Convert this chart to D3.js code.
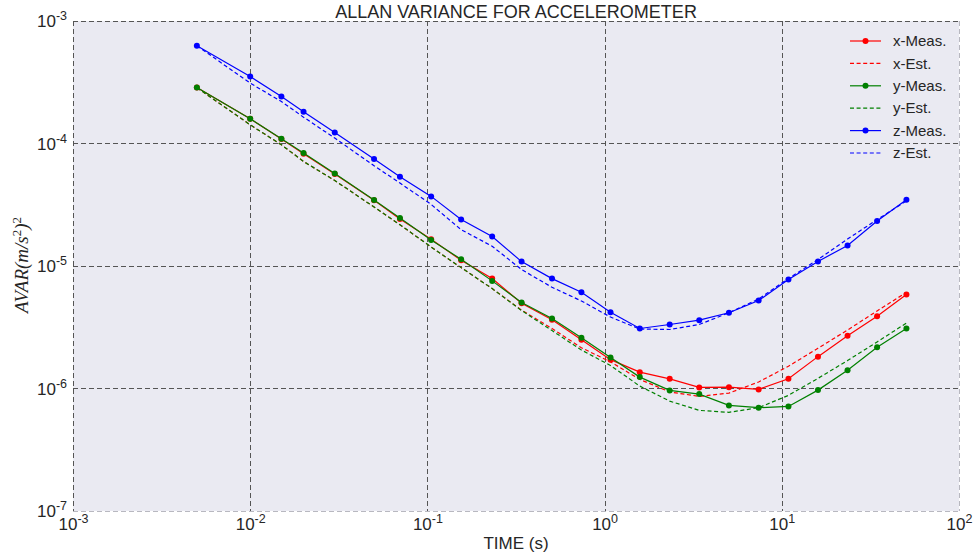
<!DOCTYPE html>
<html>
<head>
<meta charset="utf-8">
<script src="https://cdn.jsdelivr.net/npm/d3@7"></script>
<style>
  body { margin: 0; background: #ffffff; }
  svg { display: block; }
</style>
</head>
<body>
<svg id="chart" width="977" height="559"></svg>
<script>
// Averaging times (s)
const taus = [0.005, 0.01, 0.015, 0.02, 0.03, 0.05, 0.07, 0.105, 0.155, 0.232, 0.34, 0.505,
              0.74, 1.08, 1.58, 2.33, 3.42, 5.03, 7.4, 10.9, 16, 23.5, 34.5, 50.5];

// Measured Allan variance per axis, (m/s^2)^2
const xMeas = [2.86e-4, 1.59e-4, 1.09e-4, 8.24e-5, 5.63e-5, 3.44e-5, 2.42e-5, 1.65e-5, 1.113e-5, 7.89e-6,
               4.97e-6, 3.64e-6, 2.50e-6, 1.72e-6, 1.36e-6, 1.20e-6, 1.02e-6, 1.025e-6, 9.83e-7, 1.20e-6,
               1.82e-6, 2.69e-6, 3.89e-6, 5.85e-6];
const yMeas = [2.86e-4, 1.59e-4, 1.092e-4, 8.35e-5, 5.69e-5, 3.46e-5, 2.47e-5, 1.63e-5, 1.134e-5, 7.56e-6,
               5.03e-6, 3.73e-6, 2.59e-6, 1.79e-6, 1.239e-6, 9.65e-7, 9.0e-7, 7.28e-7, 6.97e-7, 7.14e-7,
               9.70e-7, 1.41e-6, 2.17e-6, 3.09e-6];
const zMeas = [6.29e-4, 3.52e-4, 2.42e-4, 1.82e-4, 1.23e-4, 7.46e-5, 5.35e-5, 3.70e-5, 2.40e-5, 1.74e-5,
               1.086e-5, 7.89e-6, 6.11e-6, 4.20e-6, 3.09e-6, 3.33e-6, 3.61e-6, 4.15e-6, 5.22e-6, 7.75e-6,
               1.09e-5, 1.47e-5, 2.33e-5, 3.48e-5];

// Estimated (noise model) Allan variance per axis
const xEst = [2.86e-4, 1.42e-4, 9.76e-5, 7.13e-5, 4.99e-5, 3.03e-5, 2.17e-5, 1.43e-5, 9.70e-6, 6.54e-6,
              4.36e-6, 3.09e-6, 2.15e-6, 1.65e-6, 1.186e-6, 9.38e-7, 8.62e-7, 9.17e-7, 1.13e-6, 1.52e-6,
              2.13e-6, 3.00e-6, 4.30e-6, 6.09e-6];
const yEst = [2.86e-4, 1.42e-4, 9.76e-5, 7.13e-5, 4.99e-5, 3.03e-5, 2.17e-5, 1.43e-5, 9.70e-6, 6.54e-6,
              4.33e-6, 2.97e-6, 2.06e-6, 1.54e-6, 1.046e-6, 7.89e-7, 6.63e-7, 6.39e-7, 6.97e-7, 8.79e-7,
              1.21e-6, 1.69e-6, 2.40e-6, 3.42e-6];
const zEst = [6.29e-4, 3.11e-4, 2.20e-4, 1.64e-4, 1.107e-4, 6.58e-5, 4.76e-5, 3.18e-5, 1.98e-5, 1.45e-5,
              9.35e-6, 6.70e-6, 5.18e-6, 3.83e-6, 3.06e-6, 3.03e-6, 3.33e-6, 4.15e-6, 5.37e-6, 7.9e-6,
              1.128e-5, 1.66e-5, 2.39e-5, 3.4e-5];

const seriesNames = ["x-Meas.", "x-Est.", "y-Meas.", "y-Est.", "z-Meas.", "z-Est."];

// Axis ticks (powers of ten)
const xTicks = [1e-3, 1e-2, 1e-1, 1e0, 1e1, 1e2];
const xTickExp = ["-3", "-2", "-1", "0", "1", "2"];
const yTicks = [1e-7, 1e-6, 1e-5, 1e-4, 1e-3];
const yTickExp = ["-7", "-6", "-5", "-4", "-3"];

const series = [
  { name: seriesNames[0], values: xMeas, color: "#ff0000", dashed: false },
  { name: seriesNames[1], values: xEst,  color: "#ff0000", dashed: true },
  { name: seriesNames[2], values: yMeas, color: "#008000", dashed: false },
  { name: seriesNames[3], values: yEst,  color: "#008000", dashed: true },
  { name: seriesNames[4], values: zMeas, color: "#0000ff", dashed: false },
  { name: seriesNames[5], values: zEst,  color: "#0000ff", dashed: true }
];

const svg = d3.select("#chart");
const plot = { left: 73, right: 959, top: 21, bottom: 511 };
const font = "'Liberation Sans', Arial, sans-serif";
const textColor = "#262626";

const x = d3.scaleLog().domain([1e-3, 1e2]).range([plot.left, plot.right]);
const y = d3.scaleLog().domain([1e-7, 1e-3]).range([plot.bottom, plot.top]);

// Plot background
svg.append("rect")
  .attr("x", plot.left).attr("y", plot.top)
  .attr("width", plot.right - plot.left).attr("height", plot.bottom - plot.top)
  .attr("fill", "#eaeaf2");

// Dashed grid
const grid = svg.append("g").attr("fill", "none").attr("stroke-width", 1).attr("stroke-dasharray", "5,3");
grid.selectAll("line.gx").data(xTicks).join("line")
  .attr("class", "gx")
  .attr("x1", d => Math.round(x(d)) + 0.5).attr("x2", d => Math.round(x(d)) + 0.5)
  .attr("y1", plot.top).attr("y2", plot.bottom)
  .attr("stroke", (d, i) => i === xTicks.length - 1 ? "#b8b8c0" : "#555555");
grid.selectAll("line.gy").data(yTicks).join("line")
  .attr("class", "gy")
  .attr("y1", d => Math.round(y(d)) + 0.5).attr("y2", d => Math.round(y(d)) + 0.5)
  .attr("x1", plot.left).attr("x2", plot.right)
  .attr("stroke", (d, i) => i === 0 ? "#b8b8c0" : "#555555");

// Axes with power-of-ten labels
function powerLabels(sel, exps, supDy) {
  sel.selectAll(".tick text").each(function (d, i) {
    const t = d3.select(this);
    t.text(null);
    t.append("tspan").text("10");
    t.append("tspan").attr("font-size", 12.5).attr("dy", supDy).text(exps[i]);
  });
}

const xAxis = svg.append("g")
  .attr("transform", `translate(0,${plot.bottom})`)
  .call(d3.axisBottom(x).tickValues(xTicks).tickSize(0).tickFormat(() => ""));
xAxis.select(".domain").remove();
xAxis.selectAll(".tick text")
  .attr("y", 19).attr("dy", null)
  .attr("font-family", font).attr("font-size", 17).attr("fill", textColor);
powerLabels(xAxis, xTickExp, -7);

const yAxis = svg.append("g")
  .attr("transform", `translate(${plot.left},0)`)
  .call(d3.axisLeft(y).tickValues(yTicks).tickSize(0).tickFormat(() => ""));
yAxis.select(".domain").remove();
yAxis.selectAll(".tick text")
  .attr("x", -6).attr("dy", "0.34em")
  .attr("font-family", font).attr("font-size", 17).attr("fill", textColor);
powerLabels(yAxis, yTickExp, -7);

// Series lines
const line = d3.line().x(d => x(d[0])).y(d => y(d[1]));
series.forEach(s => {
  const pts = taus.map((t, i) => [t, s.values[i]]);
  svg.append("path")
    .datum(pts)
    .attr("d", line)
    .attr("fill", "none")
    .attr("stroke", s.color)
    .attr("stroke-width", 1.2)
    .attr("stroke-dasharray", s.dashed ? "4,2.6" : null);
  if (!s.dashed) {
    svg.append("g").selectAll("circle").data(pts).join("circle")
      .attr("cx", d => x(d[0])).attr("cy", d => y(d[1]))
      .attr("r", 3).attr("fill", s.color);
  }
});

// Legend
const legend = svg.append("g").attr("transform", "translate(850,41)");
series.forEach((s, i) => {
  const row = legend.append("g").attr("transform", `translate(0,${i * 22.4})`);
  row.append("line")
    .attr("x1", 0).attr("x2", 31).attr("y1", 0).attr("y2", 0)
    .attr("stroke", s.color).attr("stroke-width", 1.2)
    .attr("stroke-dasharray", s.dashed ? "4,2.6" : null);
  if (!s.dashed) row.append("circle").attr("cx", 15.5).attr("cy", 0).attr("r", 3).attr("fill", s.color);
  row.append("text")
    .attr("x", 43).attr("y", 0).attr("dy", "0.35em")
    .attr("font-family", font).attr("font-size", 15).attr("fill", textColor)
    .text(s.name);
});

// Title and axis labels
svg.append("text")
  .attr("x", (plot.left + plot.right) / 2).attr("y", 18)
  .attr("text-anchor", "middle")
  .attr("font-family", font).attr("font-size", 18).attr("fill", textColor)
  .text("ALLAN VARIANCE FOR ACCELEROMETER");

svg.append("text")
  .attr("x", (plot.left + plot.right) / 2).attr("y", 549)
  .attr("text-anchor", "middle")
  .attr("font-family", font).attr("font-size", 17).attr("fill", textColor)
  .text("TIME (s)");

const yl = svg.append("text")
  .attr("transform", "translate(28,265) rotate(-90)")
  .attr("text-anchor", "middle")
  .attr("font-family", "'Liberation Serif', 'DejaVu Serif', serif")
  .attr("font-size", 19).attr("font-style", "italic").attr("fill", textColor);
yl.append("tspan").text("AVAR(m/s");
yl.append("tspan").attr("font-size", 13).attr("dy", -7).attr("font-style", "normal").text("2");
yl.append("tspan").attr("dy", 7).text(")");
yl.append("tspan").attr("font-size", 13).attr("dy", -7).attr("font-style", "normal").text("2");
</script>
</body>
</html>
